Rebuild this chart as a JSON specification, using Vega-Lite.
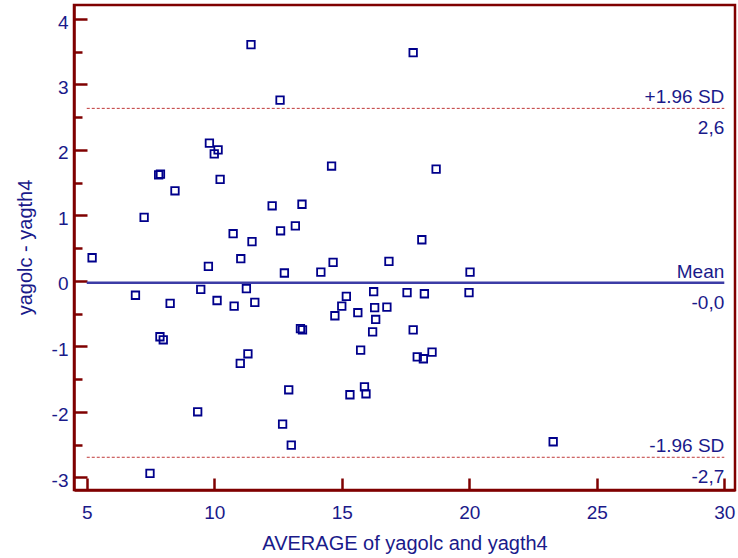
{
  "$schema": "https://vega.github.io/schema/vega-lite/v6.json",
  "width": 661,
  "height": 485,
  "autosize": {"type": "none"},
  "padding": {"left": 74, "top": 5, "right": 3, "bottom": 68},
  "background": "white",
  "config": {
    "font": "Liberation Sans",
    "view": {"stroke": "#7f0000", "strokeWidth": 2.5},
    "axis": {
      "grid": false,
      "domainColor": "#7f0000",
      "domainWidth": 2.5,
      "tickColor": "#7f0000",
      "tickWidth": 2.5,
      "labelColor": "#1a1a8a",
      "titleColor": "#1a1a8a",
      "labelFont": "Liberation Sans",
      "titleFont": "Liberation Sans",
      "labelFontSize": 19,
      "titleFontSize": 20,
      "titleFontWeight": "normal"
    }
  },
  "resolve": {"axis": {"y": "independent"}},
  "datasets": {
    "pairs": [
      {"avg": 11.44, "diff": 3.61}, {"avg": 12.58, "diff": 2.76}, {"avg": 9.81, "diff": 2.105},
      {"avg": 10.0, "diff": 1.94}, {"avg": 10.15, "diff": 2.0}, {"avg": 7.82, "diff": 1.62},
      {"avg": 7.89, "diff": 1.63}, {"avg": 8.46, "diff": 1.376}, {"avg": 10.23, "diff": 1.55},
      {"avg": 7.25, "diff": 0.97}, {"avg": 12.27, "diff": 1.147}, {"avg": 13.44, "diff": 1.17},
      {"avg": 13.18, "diff": 0.84}, {"avg": 12.6, "diff": 0.765}, {"avg": 10.74, "diff": 0.72},
      {"avg": 11.48, "diff": 0.6}, {"avg": 17.8, "diff": 3.485}, {"avg": 14.6, "diff": 1.754},
      {"avg": 18.7, "diff": 1.708}, {"avg": 18.14, "diff": 0.628}, {"avg": 5.21, "diff": 0.353},
      {"avg": 9.77, "diff": 0.22}, {"avg": 11.04, "diff": 0.338}, {"avg": 12.75, "diff": 0.12},
      {"avg": 6.91, "diff": -0.22}, {"avg": 8.27, "diff": -0.344}, {"avg": 9.47, "diff": -0.13},
      {"avg": 10.11, "diff": -0.3}, {"avg": 10.78, "diff": -0.385}, {"avg": 11.26, "diff": -0.12},
      {"avg": 11.59, "diff": -0.33}, {"avg": 13.38, "diff": -0.73}, {"avg": 13.46, "diff": -0.75},
      {"avg": 7.87, "diff": -0.854}, {"avg": 8.0, "diff": -0.9}, {"avg": 11.32, "diff": -1.114},
      {"avg": 11.02, "diff": -1.26}, {"avg": 12.92, "diff": -1.664}, {"avg": 9.35, "diff": -2.0},
      {"avg": 12.68, "diff": -2.19}, {"avg": 13.02, "diff": -2.51}, {"avg": 7.48, "diff": -2.94},
      {"avg": 14.18, "diff": 0.134}, {"avg": 14.66, "diff": 0.283}, {"avg": 16.85, "diff": 0.298},
      {"avg": 20.03, "diff": 0.134}, {"avg": 16.25, "diff": -0.166}, {"avg": 17.56, "diff": -0.18},
      {"avg": 18.24, "diff": -0.197}, {"avg": 19.99, "diff": -0.18}, {"avg": 15.18, "diff": -0.237},
      {"avg": 15.0, "diff": -0.385}, {"avg": 14.73, "diff": -0.533}, {"avg": 15.63, "diff": -0.487},
      {"avg": 16.29, "diff": -0.41}, {"avg": 16.77, "diff": -0.4}, {"avg": 16.33, "diff": -0.59},
      {"avg": 16.21, "diff": -0.78}, {"avg": 17.8, "diff": -0.75}, {"avg": 15.74, "diff": -1.057},
      {"avg": 17.96, "diff": -1.16}, {"avg": 18.2, "diff": -1.19}, {"avg": 18.54, "diff": -1.088},
      {"avg": 15.89, "diff": -1.618}, {"avg": 15.95, "diff": -1.725}, {"avg": 15.32, "diff": -1.74},
      {"avg": 23.29, "diff": -2.458}
    ],
    "limits": [
      {"stat": "+1.96 SD", "diff": 2.635, "shown": "2,6", "kind": "limit"},
      {"stat": "Mean", "diff": -0.03, "shown": "-0,0", "kind": "mean"},
      {"stat": "-1.96 SD", "diff": -2.695, "shown": "-2,7", "kind": "limit"}
    ]
  },
  "layer": [
    {
      "data": {"name": "pairs"},
      "mark": {"type": "point", "shape": "square", "filled": false, "stroke": "#00008b", "strokeWidth": 1.8, "size": 56, "opacity": 1},
      "encoding": {
        "x": {
          "field": "avg", "type": "quantitative",
          "scale": {"domain": [4.5, 30.42], "nice": false, "zero": false},
          "axis": {
            "title": "AVERAGE of yagolc and yagth4",
            "values": [5, 10, 15, 20, 25, 30],
            "tickSize": -12,
            "labelPadding": 40,
            "labelBaseline": "alphabetic",
            "labelFlush": false,
            "labelOverlap": false,
            "titleBaseline": "alphabetic",
            "titleY": 59
          }
        },
        "y": {
          "field": "diff", "type": "quantitative",
          "scale": {"domain": [-3.195, 4.214], "nice": false, "zero": false},
          "axis": {
            "orient": "left",
            "title": "yagolc - yagth4",
            "values": [-3, -2, -1, 0, 1, 2, 3, 4],
            "tickSize": -13,
            "labelExpr": "'' + datum.value",
            "labelPadding": 19,
            "labelBaseline": "alphabetic",
            "labelOffset": 9,
            "labelFlush": false,
            "labelOverlap": false,
            "titleAngle": -90,
            "titleBaseline": "alphabetic",
            "titleX": -43,
            "titleY": 242
          }
        }
      }
    },
    {
      "data": {"name": "limits"},
      "transform": [{"filter": "datum.kind === 'limit'"}],
      "mark": {"type": "rule", "color": "#c03838", "strokeWidth": 1, "strokeDash": [3, 2]},
      "encoding": {
        "x": {"datum": 5, "type": "quantitative"},
        "x2": {"datum": 30},
        "y": {
          "field": "diff", "type": "quantitative",
          "axis": {
            "orient": "left",
            "title": null,
            "values": [-2.5, -1.5, -0.5, 0.5, 1.5, 2.5, 3.5],
            "tickSize": -8,
            "labels": false,
            "domain": false
          }
        }
      }
    },
    {
      "data": {"name": "limits"},
      "transform": [{"filter": "datum.kind === 'mean'"}],
      "mark": {"type": "rule", "color": "#3c3ca6", "strokeWidth": 2.5},
      "encoding": {
        "x": {"datum": 5, "type": "quantitative"},
        "x2": {"datum": 30},
        "y": {"field": "diff", "type": "quantitative", "axis": null}
      }
    },
    {
      "data": {"name": "limits"},
      "mark": {"type": "text", "align": "right", "baseline": "alphabetic", "dy": -5, "fontSize": 19, "color": "#1a1a8a"},
      "encoding": {
        "x": {"datum": 30, "type": "quantitative"},
        "y": {"field": "diff", "type": "quantitative", "axis": null},
        "text": {"field": "stat"}
      }
    },
    {
      "data": {"name": "limits"},
      "mark": {"type": "text", "align": "right", "baseline": "alphabetic", "dy": 26, "fontSize": 19, "color": "#1a1a8a"},
      "encoding": {
        "x": {"datum": 30, "type": "quantitative"},
        "y": {"field": "diff", "type": "quantitative", "axis": null},
        "text": {"field": "shown"}
      }
    }
  ]
}
